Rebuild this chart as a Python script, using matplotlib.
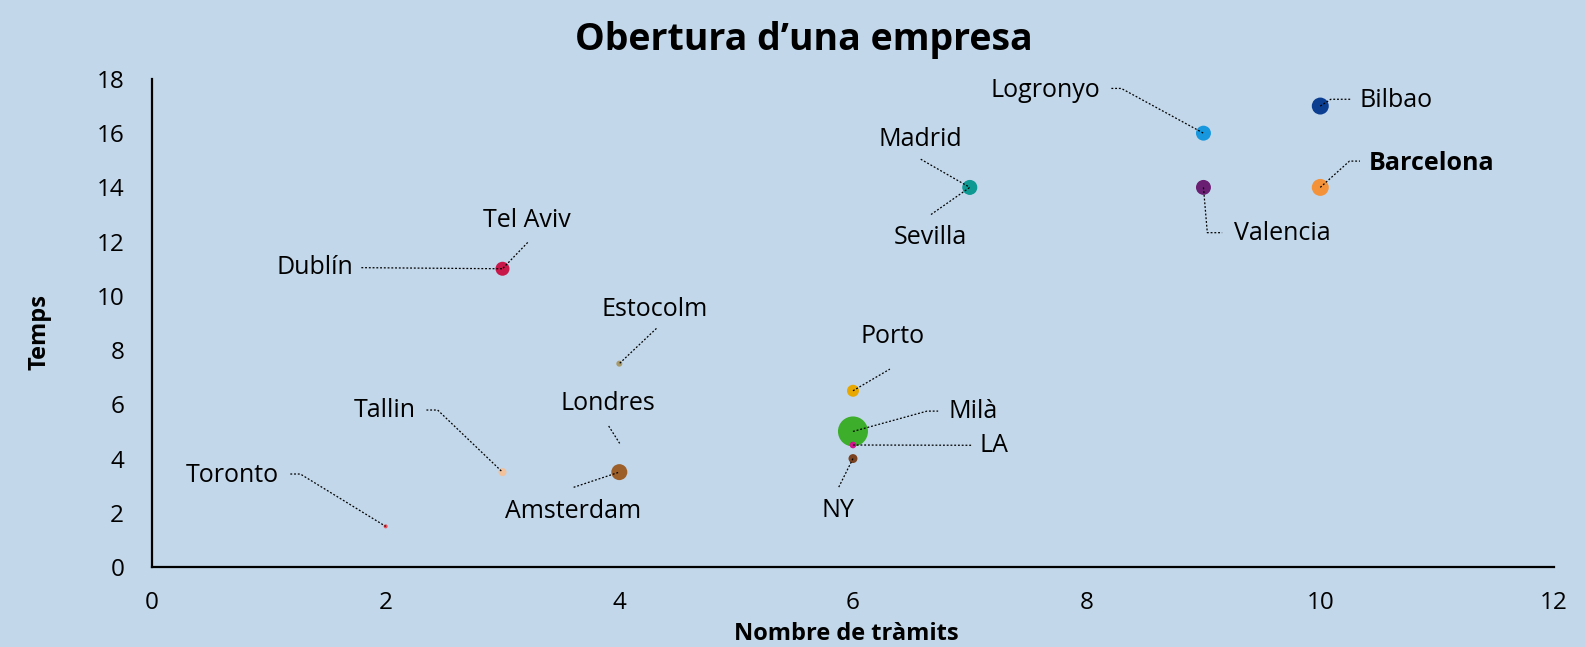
import matplotlib
matplotlib.use("Agg")
import matplotlib.pyplot as plt

# ---- data ----
cities = ["Toronto", "Tallin", "Dublín", "Tel Aviv", "Estocolm", "Londres", "Amsterdam",
          "Porto", "Milà", "LA", "NY", "Madrid", "Sevilla", "Logronyo", "Valencia",
          "Bilbao", "Barcelona"]
tramits = [2, 3, 3, 3, 4, 4, 4, 6, 6, 6, 6, 7, 7, 9, 9, 10, 10]
temps = [1.5, 3.5, 11, 11, 7.5, 3.5, 3.5, 6.5, 5, 4.5, 4, 14, 14, 16, 14, 17, 14]
bubble = [4, 16, 49, 30, 9, 40, 64, 36, 225, 11, 20, 50, 56, 56, 56, 72, 72]
colors = ["#E8505B", "#F2C29C", "#C8184A", "#C8184A", "#A89A6A", "#9C5F2A", "#9C5F2A",
          "#E8A800", "#3DAE2B", "#D0148C", "#7A4220", "#0E9A93", "#0E9A93", "#1797DD",
          "#6B1F73", "#0B3D91", "#F4923A"]
xticks = [0, 2, 4, 6, 8, 10, 12]
yticks = [0, 2, 4, 6, 8, 10, 12, 14, 16, 18]

# ---- layout: label positions and leader paths (data coords) ----
label_pos = {
    "Toronto": (0.684, 3.39), "Tallin": (1.994, 5.79), "Dublín": (1.39, 11.06),
    "Tel Aviv": (3.21, 12.78), "Estocolm": (4.30, 9.50), "Londres": (3.906, 6.04),
    "Amsterdam": (3.607, 2.04), "Porto": (6.34, 8.50), "Milà": (7.03, 5.75),
    "LA": (7.21, 4.50), "NY": (5.875, 2.10), "Madrid": (6.58, 15.78),
    "Sevilla": (6.66, 12.14), "Logronyo": (7.65, 17.59), "Valencia": (9.675, 12.30),
    "Bilbao": (10.65, 17.22), "Barcelona": (10.95, 14.89),
}
# leader paths: intermediate points; None = ends at the data point
leaders = {
    "Toronto": [(1.184, 3.43), (1.270, 3.43), None],
    "Tallin": [(2.349, 5.79), (2.445, 5.79), None],
    "Dublín": [(1.792, 11.04), None],
    "Tel Aviv": [(3.216, 11.97), None],
    "Estocolm": [(4.318, 8.80), None],
    "Londres": [(3.909, 5.20), (4.003, 4.56)],
    "Amsterdam": [(3.609, 2.94), None],
    "Porto": [None, (6.316, 7.30)],
    "Milà": [None, (6.634, 5.75), (6.729, 5.75)],
    "LA": [None, (7.02, 4.49)],
    "NY": [None, (5.873, 2.90)],
    "Madrid": [(6.58, 15.04), None],
    "Sevilla": [(6.668, 13.0), None],
    "Logronyo": [(8.212, 17.65), (8.297, 17.65), None],
    "Valencia": [None, (9.033, 12.33), (9.16, 12.33)],
    "Bilbao": [None, (10.09, 17.25), (10.26, 17.25)],
    "Barcelona": [None, (10.25, 14.97), (10.34, 14.97)],
}

BG = "#C2D7EA"
FONT = "Open Sans"

fig = plt.figure(figsize=(15.85, 6.47), dpi=100, facecolor=BG)
ax = fig.add_axes([0.0959, 0.1236, 0.8845, 0.7544], facecolor=BG)

k = (1.44) ** 2
ax.scatter(tramits, temps, s=[b * k for b in bubble], c=colors, zorder=3, linewidths=0)

for i, name in enumerate(cities):
    pts = [(tramits[i], temps[i]) if p is None else p for p in leaders[name]]
    xs = [p[0] for p in pts]
    ys = [p[1] for p in pts]
    ax.plot(xs, ys, color="black", lw=0.9, ls=(0, (1.5, 1.5)), zorder=4)
    lx, ly = label_pos[name]
    ax.text(lx, ly, name, ha="center", va="center", fontsize=18, family=FONT,
            fontweight="bold" if name == "Barcelona" else "normal", zorder=5)

ax.set_xlim(0, 12)
ax.set_ylim(0, 18)
ax.set_xticks(xticks)
ax.set_yticks(yticks)
ax.set_xticklabels([str(t) for t in xticks], fontsize=17.5, family=FONT)
ax.set_yticklabels([str(t) for t in yticks], fontsize=17.5, family=FONT)
ax.tick_params(axis="y", length=0, pad=20)
ax.tick_params(axis="x", length=0, pad=17)
for s in ["top", "right"]:
    ax.spines[s].set_visible(False)
for s in ["left", "bottom"]:
    ax.spines[s].set_linewidth(1.6)
    ax.spines[s].set_color("black")

fig.text(846 / 1585, 1 - 634 / 647, "Nombre de tràmits", ha="center", va="center",
         fontsize=17, fontweight="bold", family=FONT)
fig.text(40 / 1585, 1 - 332 / 647, "Temps", ha="center", va="center", rotation=90,
         fontsize=17, fontweight="bold", family=FONT)
fig.text(804 / 1585, 1 - 40 / 647, "Obertura d\u2019una empresa", ha="center", va="center",
         fontsize=27, fontweight="bold", family=FONT)

fig.savefig("out.png", dpi=100, facecolor=BG)
